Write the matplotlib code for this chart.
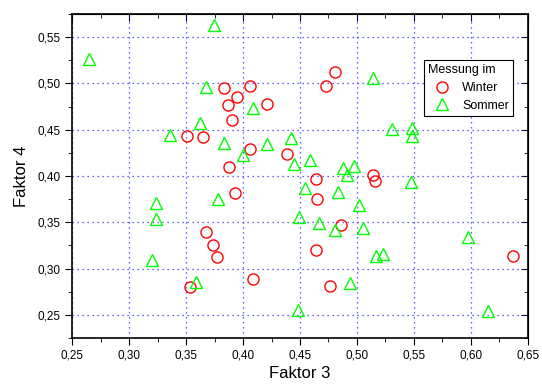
import numpy as np
from matplotlib import pyplot as plt
from matplotlib.ticker import MultipleLocator, FuncFormatter

plt.rcParams['font.family'] = ['Liberation Sans', 'DejaVu Sans']

# Messung im Winter (Faktor 3, Faktor 4)
winter_x = [0.3836, 0.4064, 0.3944, 0.3871, 0.4213, 0.3906, 0.3509, 0.3649, 0.4061, 0.4389, 0.3880,
            0.4810, 0.4728, 0.4638, 0.5143, 0.5158,
            0.4652, 0.4857, 0.4638, 0.4766, 0.6366,
            0.3930, 0.3679, 0.3740, 0.3772, 0.3538, 0.4090]
winter_y = [0.4946, 0.4968, 0.4855, 0.4766, 0.4773, 0.4600, 0.4431, 0.4424, 0.4287, 0.4233, 0.4093,
            0.5122, 0.4971, 0.3970, 0.4010, 0.3945,
            0.3750, 0.3467, 0.3200, 0.2811, 0.3138,
            0.3819, 0.3394, 0.3254, 0.3124, 0.2800, 0.2887]

# Messung im Sommer
sommer_x = [0.2649, 0.3743, 0.3673, 0.4090, 0.3623, 0.3360, 0.3836, 0.4208, 0.4418, 0.4003, 0.4447,
            0.5143, 0.5310, 0.5480, 0.5480, 0.4588, 0.4880, 0.4974, 0.4910, 0.5470,
            0.4544, 0.4836, 0.4488, 0.5018, 0.4667, 0.4807, 0.5055, 0.5974, 0.5167, 0.5225,
            0.4939, 0.4485, 0.6149,
            0.3234, 0.3234, 0.3204, 0.3784, 0.3588]
sommer_y = [0.5259, 0.5630, 0.4963, 0.4740, 0.4568, 0.4445, 0.4359, 0.4341, 0.4413, 0.4226, 0.4125,
            0.5060, 0.4510, 0.4520, 0.4434, 0.4172, 0.4082, 0.4110, 0.4010, 0.3937,
            0.3866, 0.3829, 0.3560, 0.3686, 0.3495, 0.3416, 0.3440, 0.3337, 0.3138, 0.3157,
            0.2847, 0.2552, 0.2541,
            0.3710, 0.3535, 0.3092, 0.3747, 0.2858]

fig = plt.figure(figsize=(5.42, 3.89), dpi=100)
ax = fig.add_axes([0.133, 0.131, 0.841, 0.833])

ax.plot(winter_x, winter_y, 'o', ls='none', ms=8, mfc='none', mec='#ff0000', mew=1.0, label='Winter')
ax.plot(sommer_x, sommer_y, '^', ls='none', ms=8.5, mfc='none', mec='#00ff00', mew=1.0, label='Sommer')

ax.set_xlim(0.25, 0.65)
ax.set_ylim(0.225, 0.575)
ax.xaxis.set_major_locator(MultipleLocator(0.05))
ax.xaxis.set_minor_locator(MultipleLocator(0.025))
ax.yaxis.set_major_locator(MultipleLocator(0.05))
ax.yaxis.set_minor_locator(MultipleLocator(0.025))
komma = FuncFormatter(lambda v, p: ('%.2f' % v).replace('.', ','))
ax.xaxis.set_major_formatter(komma)
ax.yaxis.set_major_formatter(komma)
ax.set_yticks([0.25, 0.30, 0.35, 0.40, 0.45, 0.50, 0.55])

ax.tick_params(which='both', direction='out', top=False, right=False, labelsize=8.5)
ax.tick_params(which='major', length=5)
ax.tick_params(which='minor', length=3)
# gespiegelte Achsen oben/rechts mit Ticks nach innen
ax2 = ax.secondary_xaxis('top')
ax2.xaxis.set_major_locator(MultipleLocator(0.05))
ax2.xaxis.set_minor_locator(MultipleLocator(0.025))
ax2.tick_params(which='both', direction='in', labeltop=False)
ax2.tick_params(which='major', length=5)
ax2.tick_params(which='minor', length=3)
ay2 = ax.secondary_yaxis('right')
ay2.yaxis.set_major_locator(MultipleLocator(0.05))
ay2.yaxis.set_minor_locator(MultipleLocator(0.025))
ay2.tick_params(which='both', direction='in', labelright=False)
ay2.tick_params(which='major', length=5)
ay2.tick_params(which='minor', length=3)

ax.grid(True, which='major', color='#3333ff', ls=(0, (1, 3)), lw=0.9)
for s in ax.spines.values():
    s.set_linewidth(1.2)

ax.set_xlabel('Faktor 3', fontsize=12, labelpad=3)
ax.set_ylabel('Faktor 4', fontsize=12, labelpad=6)

leg = ax.legend(title='Messung im', loc='upper left', bbox_to_anchor=(0.772, 0.858),
                fontsize=9, title_fontsize=9, fancybox=False, edgecolor='black',
                framealpha=1, borderpad=0.35, borderaxespad=0, handletextpad=0.5,
                labelspacing=0.45, handlelength=2.2)
leg._legend_box.align = 'left'
leg.get_frame().set_linewidth(0.8)

plt.savefig('out.png', dpi=100)
